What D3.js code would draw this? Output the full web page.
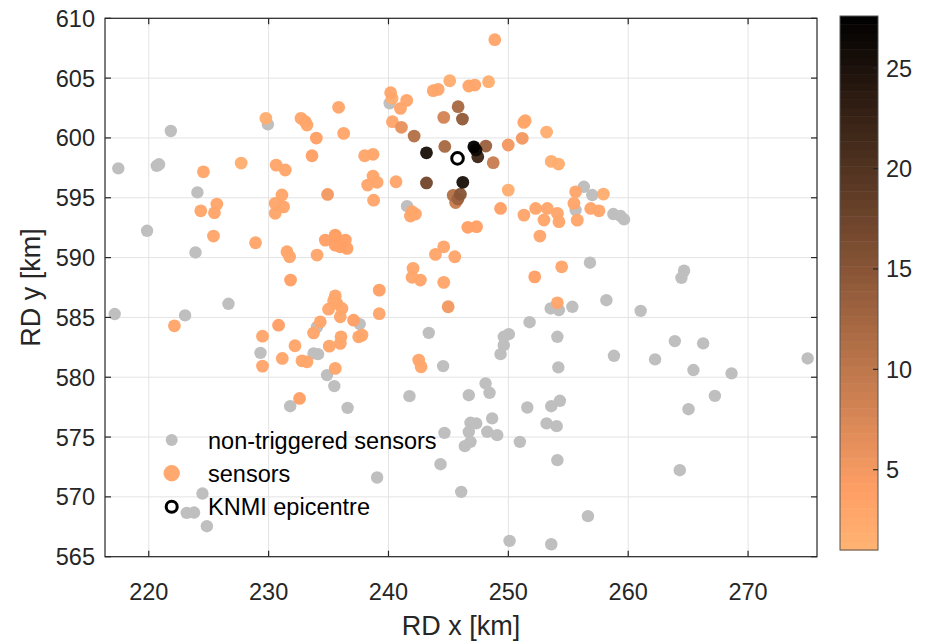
<!DOCTYPE html>
<html><head><meta charset="utf-8">
<script src="https://cdn.jsdelivr.net/npm/d3@7"></script>
<style>body{margin:0;background:#fff}svg{display:block}text{font-family:"Liberation Sans",Arial,sans-serif;fill:#262626}</style>
</head><body><svg id="c" width="942" height="641"></svg>
<script>
// Non-triggered sensors (RD x, RD y in km)
const greyX = [217.46,221.84,220.67,220.86,224.06,229.94,240.10,256.30,257.00,219.86,223.90,217.16,223.03,226.65,234.04,229.32,233.75,234.12,234.87,241.55,255.61,237.60,243.36,244.56,250.04,249.62,249.62,249.35,251.77,253.53,254.22,255.34,254.09,254.17,258.76,259.37,259.65,256.81,264.66,264.44,258.18,261.04,263.89,266.25,258.81,262.24,265.44,268.62,274.97,235.48,231.80,224.48,223.17,223.78,224.85,236.59,241.75,246.70,248.10,248.43,251.58,253.58,254.30,246.84,247.32,246.70,248.65,248.24,249.07,246.84,246.37,244.67,244.34,250.96,253.19,254.03,254.09,239.05,246.07,250.10,253.58,267.23,265.03,264.30,256.64];
const greyY = [597.46,600.58,597.67,597.80,595.45,601.14,602.90,595.92,595.23,592.24,590.43,585.28,585.17,586.14,584.21,582.04,581.99,581.93,580.18,594.30,593.97,584.44,583.71,580.93,583.60,583.38,582.68,581.93,584.60,585.75,585.61,585.89,583.38,580.82,593.64,593.47,593.19,589.57,588.90,588.31,586.44,585.55,583.02,582.83,581.79,581.49,580.60,580.32,581.57,579.26,577.58,570.28,568.66,568.69,567.55,577.44,578.42,578.50,579.48,578.70,577.47,577.58,578.03,576.19,576.14,575.44,576.56,575.44,575.16,574.60,574.24,575.35,572.73,574.60,576.14,575.91,573.07,571.62,570.42,566.32,566.04,578.44,577.33,572.23,568.39];
// Triggered sensors
const sensX = [224.56,227.71,229.77,230.63,231.39,231.11,232.70,233.06,233.20,233.98,233.62,234.92,235.84,236.26,248.87,240.18,240.30,241.52,241.00,243.73,244.14,245.11,246.70,247.20,248.35,245.81,246.17,244.61,240.33,241.08,242.14,238.01,238.71,243.17,244.70,247.12,247.30,247.45,248.12,248.74,249.99,251.16,251.29,251.41,253.19,253.58,254.19,240.63,238.71,238.26,239.05,243.17,246.20,245.40,245.80,245.60,246.00,249.99,255.61,257.93,225.68,225.48,224.34,225.40,228.91,230.55,231.25,230.55,231.53,231.75,234.04,231.83,234.73,235.56,235.56,222.14,235.56,235.42,235.00,234.31,233.75,230.83,229.49,229.49,231.14,232.20,232.78,233.20,235.06,235.56,238.76,241.97,242.25,241.83,249.35,251.30,252.28,253.25,254.09,252.97,254.22,252.63,255.47,255.75,246.62,247.35,235.56,236.40,235.98,236.54,244.61,243.92,245.53,242.05,241.97,242.66,244.61,254.45,252.20,239.23,239.23,244.98,235.70,236.12,235.98,237.09,236.04,237.51,237.79,235.98,242.52,242.72,254.09,256.87,257.56,232.58];
const sensY = [597.17,597.90,601.64,597.73,597.32,595.23,601.64,601.36,601.08,599.99,598.51,595.28,602.56,600.38,608.21,603.78,603.31,603.14,602.47,603.95,604.06,604.78,604.34,604.42,604.70,602.61,601.58,601.72,601.36,600.89,600.16,598.51,598.63,598.76,599.29,599.26,599.00,598.43,599.32,597.93,599.41,599.97,601.30,601.44,600.49,598.04,597.82,596.34,596.81,596.06,596.29,596.24,596.29,595.20,594.90,594.60,595.30,595.64,595.50,595.31,594.47,593.75,593.91,591.80,591.24,594.53,594.24,593.70,590.49,590.07,590.21,588.12,591.46,591.88,591.04,584.30,586.80,586.38,585.69,584.63,583.70,584.35,583.43,580.93,581.57,582.63,581.37,581.29,582.60,580.74,594.80,593.83,593.64,593.47,594.11,593.55,594.11,594.11,593.70,593.14,593.00,591.80,594.53,593.13,592.53,592.58,591.74,591.46,590.90,590.77,590.90,590.27,590.07,589.10,588.35,588.12,587.93,589.23,588.39,587.28,585.31,585.89,586.17,585.75,585.05,584.77,583.38,583.38,583.52,582.83,581.43,580.87,586.22,594.11,593.91,578.23];
const sensV = [3,2,2,3,3,3,3,3,3,4,4,5,3,3,3,3,2,3,3,3,3,2,3,3,2,12,14,8,3,6,11,3,3,25,12,27.5,26,22,13,9,5,5,3,3,2,2,2,3,3,3,3,17,25,11,13,9,15,2,3,2,3,3,3,3,3,3,3,3,3,3,3,4,4,4,4,3,3,3,3,3,3,4,3,3,3,3,3,3,3,3,3,3,3,3,4,3,3,3,3,3,3,3,3,3,4,4,4,4,4,4,3,3,3,3,3,3,3,3,4,4,3,5,3,3,3,4,3,3,3,3,3,3,3,3,3,4];
const epiX = [245.76], epiY = [598.29];
const xTicks = [220,230,240,250,260,270];
const yTicks = [565,570,575,580,585,590,595,600,605,610];
const cTicks = [5,10,15,20,25];
const legendLabels = ["non-triggered sensors","sensors","KNMI epicentre"];

const svg = d3.select("#c");
const L=105, R=817, T=18.3, B=556.7;
const x = d3.scaleLinear().domain([216.35,275.75]).range([L,R]);
const y = d3.scaleLinear().domain([565,610]).range([B,T]);
const cmin=1, cmax=27.6;
function copper(v){
  const t = Math.max(0,Math.min(1,(v-cmin)/(cmax-cmin)));
  const s = 0.9*(1-t);
  return d3.rgb(255*Math.min(1,1.25*s), 255*0.7812*s, 255*0.4975*s).toString();
}
const axisCol="#262626";
// grid
const g = svg.append("g");
g.selectAll(".gx").data(xTicks).join("line").attr("x1",d=>x(d)).attr("x2",d=>x(d)).attr("y1",T).attr("y2",B).attr("stroke","#e3e3e3").attr("stroke-width",1);
g.selectAll(".gy").data(yTicks).join("line").attr("y1",d=>y(d)).attr("y2",d=>y(d)).attr("x1",L).attr("x2",R).attr("stroke","#e3e3e3").attr("stroke-width",1);

// points
const grey = d3.range(greyX.length).map(i=>({x:greyX[i],y:greyY[i]}));
svg.append("g").selectAll("circle").data(grey).join("circle")
  .attr("cx",d=>x(d.x)).attr("cy",d=>y(d.y)).attr("r",6.2).attr("fill","#bfbfbf");
const sens = d3.range(sensX.length).map(i=>({x:sensX[i],y:sensY[i],v:sensV[i]})).sort((a,b)=>a.v-b.v);
svg.append("g").selectAll("circle").data(sens).join("circle")
  .attr("cx",d=>x(d.x)).attr("cy",d=>y(d.y)).attr("r",6.4).attr("fill",d=>copper(d.v)).attr("fill-opacity",0.96);
svg.append("g").selectAll("circle").data(epiX.map((d,i)=>({x:d,y:epiY[i]}))).join("circle")
  .attr("cx",d=>x(d.x)).attr("cy",d=>y(d.y)).attr("r",5.8).attr("fill","#fff").attr("stroke","#000").attr("stroke-width",3);

// box & ticks
svg.append("rect").attr("x",L).attr("y",T).attr("width",R-L).attr("height",B-T).attr("fill","none").attr("stroke",axisCol).attr("stroke-width",1.2);
const tk = svg.append("g").attr("stroke",axisCol).attr("stroke-width",1.2);
xTicks.forEach(v=>{tk.append("line").attr("x1",x(v)).attr("x2",x(v)).attr("y1",B).attr("y2",B-6);
  tk.append("line").attr("x1",x(v)).attr("x2",x(v)).attr("y1",T).attr("y2",T+6);});
yTicks.forEach(v=>{tk.append("line").attr("y1",y(v)).attr("y2",y(v)).attr("x1",L).attr("x2",L+6);
  tk.append("line").attr("y1",y(v)).attr("y2",y(v)).attr("x1",R).attr("x2",R-6);});
svg.append("g").selectAll("text").data(xTicks).join("text").attr("x",d=>x(d)).attr("y",600).attr("text-anchor","middle").attr("font-size",23.5).text(d=>d);
svg.append("g").selectAll("text").data(yTicks).join("text").attr("x",L-10).attr("y",d=>y(d)+8.5).attr("text-anchor","end").attr("font-size",23.5).text(d=>d);
svg.append("text").attr("x",(L+R)/2).attr("y",635).attr("text-anchor","middle").attr("font-size",27).text("RD x [km]");
svg.append("text").attr("transform",`translate(40,${(T+B)/2}) rotate(-90)`).attr("text-anchor","middle").attr("font-size",27).text("RD y [km]");

// legend
const lg = svg.append("g");
const ly=[440,473.3,506.7];
lg.append("circle").attr("cx",171.7).attr("cy",ly[0]).attr("r",6).attr("fill","#bfbfbf");
lg.append("circle").attr("cx",171.7).attr("cy",ly[1]).attr("r",8.2).attr("fill",copper(3)).attr("fill-opacity",0.96);
lg.append("circle").attr("cx",171.7).attr("cy",ly[2]).attr("r",5.5).attr("fill","#fff").attr("stroke","#000").attr("stroke-width",3);
lg.selectAll("text").data(legendLabels).join("text").attr("x",208).attr("y",(d,i)=>ly[i]+8.5).attr("font-size",23.5).style("fill","#000").text(d=>d);

// colorbar
const cbL=840, cbR=878, cbT=16, cbB=550;
const cy = d3.scaleLinear().domain([cmin,cmax]).range([cbB,cbT]);
const n=64, steps=d3.range(n);
svg.append("g").selectAll("rect").data(steps).join("rect")
  .attr("x",cbL).attr("width",cbR-cbL)
  .attr("y",i=>cy(cmin+(i+1)*(cmax-cmin)/n)).attr("height",i=>cy(cmin+i*(cmax-cmin)/n)-cy(cmin+(i+1)*(cmax-cmin)/n)+0.5)
  .attr("fill",i=>copper(cmin+(i+0.5)*(cmax-cmin)/n));
svg.append("rect").attr("x",cbL).attr("y",cbT).attr("width",cbR-cbL).attr("height",cbB-cbT).attr("fill","none").attr("stroke","#555").attr("stroke-width",1);
svg.append("g").selectAll("line").data(cTicks).join("line").attr("x1",cbR).attr("x2",cbR-5).attr("y1",d=>cy(d)).attr("y2",d=>cy(d)).attr("stroke",axisCol).attr("stroke-width",1.2);
svg.append("g").selectAll("text").data(cTicks).join("text").attr("x",cbR+8).attr("y",d=>cy(d)+8.5).attr("font-size",23.5).text(d=>d);
</script></body></html>
